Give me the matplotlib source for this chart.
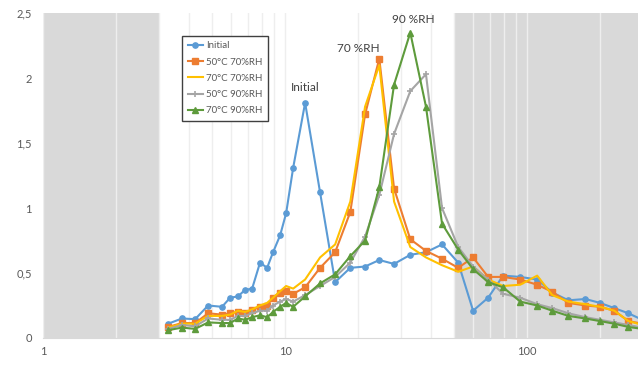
import matplotlib
matplotlib.use("Agg")
import matplotlib.pyplot as plt
from matplotlib.ticker import FixedLocator, FuncFormatter, NullFormatter

plt.rcParams['font.family'] = ['Lato', 'DejaVu Sans']

# pore size (x, log scale)
x = [3.29, 3.75, 4.25, 4.81, 5.49, 5.93, 6.39, 6.83, 7.31, 7.88, 8.43, 8.92, 9.54, 10.1,
     10.8, 12.1, 13.95, 16.1, 18.6, 21.4, 24.5, 28.2, 32.9, 38.2, 44.5, 51.9, 59.8, 69.0,
     79.6, 93.6, 110, 127, 148, 174, 200, 229, 262, 299]

initial = [0.11, 0.15, 0.145, 0.25, 0.24, 0.31, 0.32, 0.37, 0.38, 0.58, 0.54, 0.66, 0.79, 0.96,
           1.31, 1.81, 1.12, 0.43, 0.54, 0.55, 0.60, 0.57, 0.64, 0.66, 0.72, 0.58, 0.21, 0.31,
           0.48, 0.47, 0.45, 0.35, 0.29, 0.30, 0.27, 0.23, 0.19, 0.14]
c50_70 = [0.085, 0.115, 0.115, 0.19, 0.18, 0.19, 0.20, 0.19, 0.215, 0.24, 0.25, 0.31, 0.35, 0.36,
          0.34, 0.39, 0.54, 0.66, 0.97, 1.72, 2.15, 1.15, 0.76, 0.67, 0.61, 0.54, 0.62, 0.47,
          0.47, 0.45, 0.41, 0.355, 0.27, 0.25, 0.24, 0.21, 0.13, 0.11]
c70_70 = [0.08, 0.11, 0.11, 0.17, 0.17, 0.18, 0.21, 0.20, 0.22, 0.25, 0.27, 0.31, 0.36, 0.40,
          0.38, 0.45, 0.62, 0.72, 1.05, 1.78, 2.10, 1.05, 0.70, 0.62, 0.56, 0.51, 0.55, 0.45,
          0.40, 0.41, 0.48, 0.33, 0.28, 0.26, 0.24, 0.21, 0.13, 0.10]
c50_90 = [0.07, 0.10, 0.09, 0.15, 0.14, 0.14, 0.17, 0.17, 0.19, 0.21, 0.21, 0.25, 0.28, 0.30,
          0.28, 0.33, 0.40, 0.47, 0.58, 0.78, 1.10, 1.57, 1.90, 2.03, 1.00, 0.70, 0.55, 0.45,
          0.34, 0.31, 0.26, 0.23, 0.19, 0.16, 0.14, 0.12, 0.10, 0.08]
c70_90 = [0.06, 0.08, 0.07, 0.12, 0.115, 0.115, 0.15, 0.14, 0.16, 0.175, 0.16, 0.20, 0.24, 0.27,
          0.24, 0.32, 0.42, 0.49, 0.63, 0.75, 1.16, 1.95, 2.35, 1.78, 0.88, 0.68, 0.53, 0.43,
          0.39, 0.28, 0.25, 0.21, 0.17, 0.15, 0.13, 0.11, 0.085, 0.07]

labels = ["Initial", "50°C 70%RH", "70°C 70%RH", "50°C 90%RH", "70°C 90%RH"]
yticks = [0, 0.5, 1, 1.5, 2, 2.5]
xticks = [1, 10, 100]
annots = [("Initial", 12.1, 1.93), ("70 %RH", 20.0, 2.23), ("90 %RH", 33.8, 2.45)]

fig = plt.figure(figsize=(6.38, 3.65), dpi=100)
ax = fig.add_axes([0.0674, 0.074, 0.9326, 0.890])
ax.set_xscale('log')
ax.set_xlim(1, 287)
ax.set_ylim(0, 2.5)

ax.axvspan(1, 3, color='#D9D9D9', lw=0, zorder=0)
ax.axvspan(50, 287, color='#D9D9D9', lw=0, zorder=0)

ax.xaxis.set_minor_locator(FixedLocator([m * d for d in (1, 10, 100) for m in range(2, 10)]))
ax.xaxis.set_minor_formatter(NullFormatter())
ax.xaxis.set_major_locator(FixedLocator(xticks))
ax.xaxis.set_major_formatter(FuncFormatter(lambda v, p: f"{v:g}"))
ax.grid(True, axis='x', which='both', color='#EEEEEE', lw=1, zorder=0.5)
ax.set_axisbelow(True)

ax.set_yticks(yticks)
ax.yaxis.set_major_formatter(FuncFormatter(lambda v, p: f"{v:g}".replace('.', ',')))
ax.tick_params(axis='both', which='both', length=0, labelsize=8, colors='#595959')
ax.tick_params(axis='x', pad=6)
ax.tick_params(axis='y', pad=8)
for s in ['left', 'right', 'top']:
    ax.spines[s].set_visible(False)
ax.spines['bottom'].set_color('#D9D9D9')

kw = dict(lw=1.5, zorder=3)
ax.plot(x, initial, color='#5B9BD5', marker='o', ms=3.8, label=labels[0], **kw)
ax.plot(x, c50_70, color='#ED7D31', marker='s', ms=4.5, label=labels[1], **kw)
ax.plot(x, c70_70, color='#FFC000', label=labels[2], **kw)
ax.plot(x, c50_90, color='#A5A5A5', marker='+', ms=5, mew=1.2, label=labels[3], **kw)
ax.plot(x, c70_90, color='#5E9B3C', marker='^', ms=4, label=labels[4], **kw)

for t, tx, ty in annots:
    ax.text(tx, ty, t, ha='center', va='center', fontsize=8.5, color='#404040', zorder=5)

leg = ax.legend(loc='upper left', bbox_to_anchor=(0.226, 0.945), fontsize=7,
                fancybox=False, edgecolor='#404040', framealpha=1, borderpad=0.55,
                labelspacing=0.75, handlelength=1.6, handletextpad=0.3)
leg.get_frame().set_linewidth(1)
for tx in leg.get_texts():
    tx.set_color('#595959')

fig.savefig('out.png', dpi=100)
